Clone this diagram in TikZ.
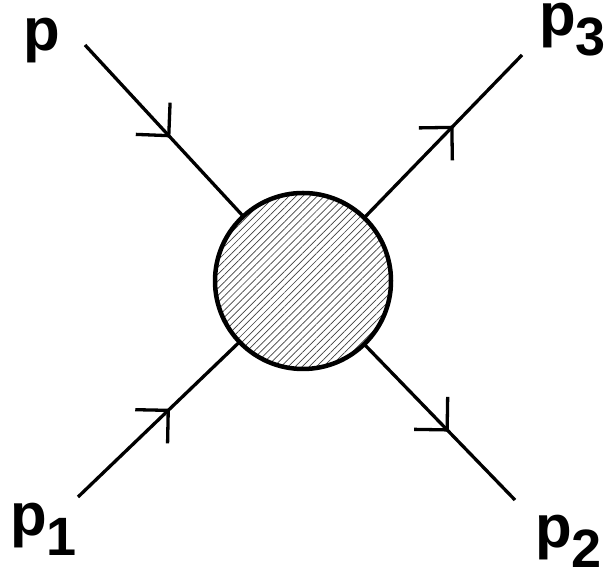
\documentclass[tikz,border=0pt]{standalone}
\usepackage{fontspec}
\setmainfont{Liberation Sans}
\usetikzlibrary{arrows.meta,decorations.markings,patterns.meta}

\newcommand{\idx}[1]{\raisebox{-20pt}{\fontsize{54}{54}\selectfont #1}}

\begin{document}
\begin{tikzpicture}[x=1pt,y=1pt,
    leg/.style={line width=3.3pt},
    fermion/.style={leg,postaction={decorate},
      decoration={markings,mark=at position #1 with {\arrow{Straight Barb[angle=90:33pt]}}}},
    lbl/.style={anchor=base west,inner sep=0pt,font=\fontsize{60}{60}\selectfont\bfseries}]
    \useasboundingbox (0,0) rectangle (610,577);

    \node[circle,draw,line width=4.5pt,minimum size=176pt,inner sep=0pt,
      pattern={Lines[angle=45,distance=5pt,line width=0.7pt]},pattern color=black!75] (blob) at (303,296) {};

    \coordinate (pin) at (85,532);
    \coordinate (pone) at (78,80);
    \coordinate (ptwo) at (515,77);
    \coordinate (pthree) at (522,522);

    \draw[fermion=0.54] (pin) -- (blob);
    \draw[fermion=0.57] (pone) -- (blob);
    \draw[fermion=0.56] (blob) -- (ptwo);
    \draw[fermion=0.565] (blob) -- (pthree);

    \node[lbl] (lp) at (23,526) {p};
    \node[lbl] (lpone) at (10,41) {p\idx{1}};
    \node[lbl] (lptwo) at (535,29) {p\idx{2}};
    \node[lbl] (lpthree) at (539,541) {p\idx{3}};
\end{tikzpicture}
\end{document}
